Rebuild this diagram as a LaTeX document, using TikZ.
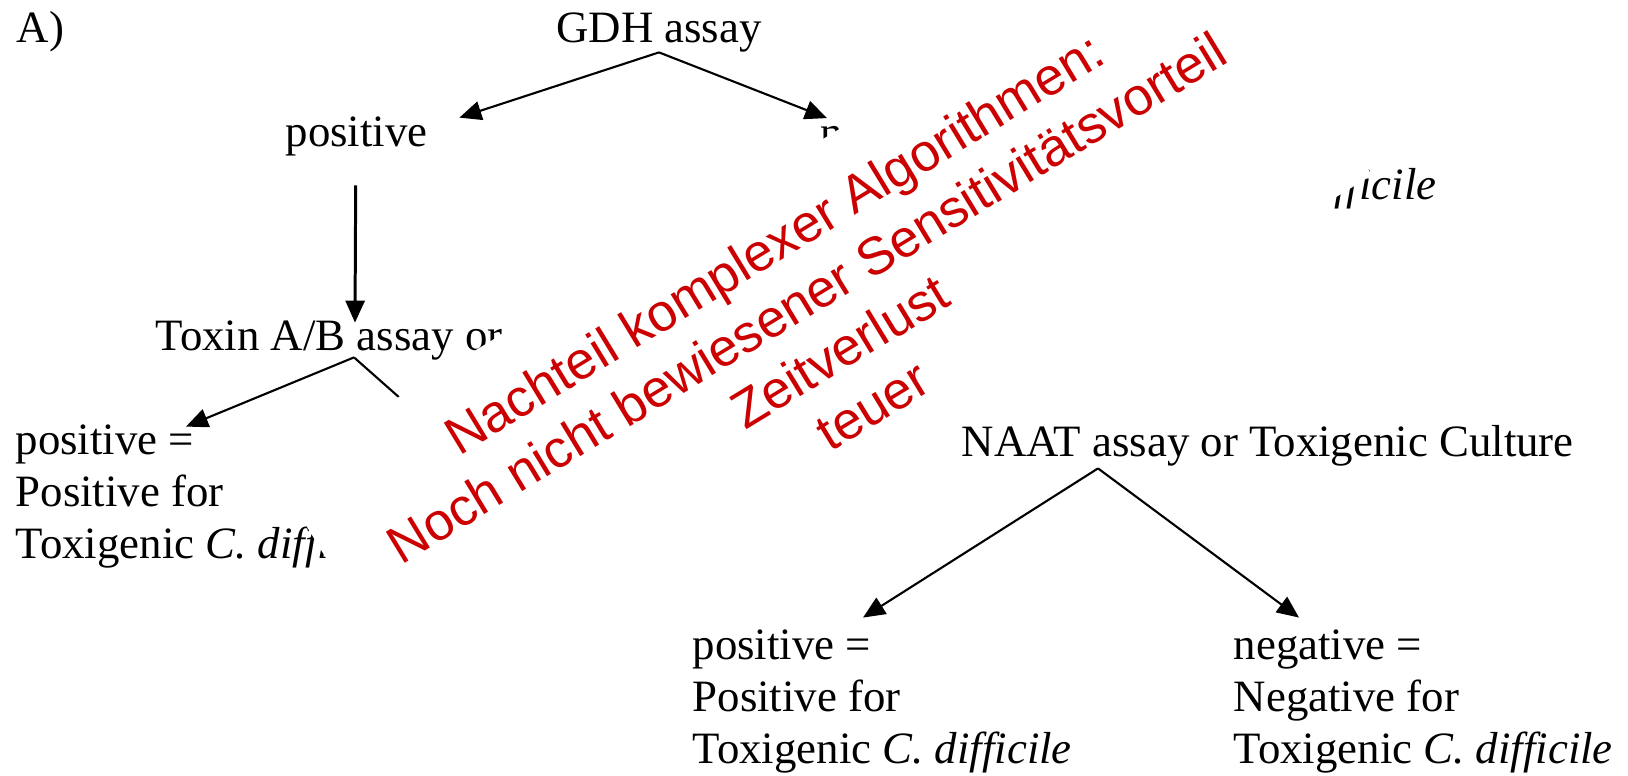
\documentclass[tikz,border=0pt]{standalone}
\usepackage{fontspec}
\setmainfont{Liberation Serif}
\newfontfamily\notefont{Liberation Sans}
\usepackage{tikz}
\definecolor{notered}{RGB}{204,0,0}
\usetikzlibrary{arrows.meta, calc}

\begin{document}
\begin{tikzpicture}[
  x=0.01cm, y=-0.01cm,
  >={Triangle[length=0.22cm, width=0.19cm]},
  every node/.style={inner sep=0pt, font=\fontsize{12.75}{14.65}\selectfont},
  txt/.style={anchor=base west, align=left},
  branch/.style={->, line width=0.6pt},
  note box/.style={fill=white, text=notered, rotate=31.3, align=center,
    minimum width=10.92cm, minimum height=3.16cm,
    font=\notefont\fontsize{15}{17.95}\selectfont},
]
  \useasboundingbox (0,0) rectangle (1628,775);

  \node[txt] (lab) at (16,42) {A)};
  \node[anchor=base] (gdh) at (659,42) {GDH assay};

  % first level
  \node[txt] (pos) at (285,146) {positive};
  \node[txt] (neg) at (820,199)
    {negative =\\Negative for Toxigenic \textit{C. difficile}};
  \draw[branch] (gdh.south) -- ($(pos.north east)+(31,2)$);
  \draw[branch] (gdh.south) -- ($(neg.north west)+(7,1)$);

  % toxin assay
  \node[txt] (tox) at (155,350) {Toxin A/B assay or};
  \draw[->, line width=0.85pt] ($(pos.south)+(-1,29)$) -- ($(tox.north west)+(200,3)$);

  \node[txt] (posL) at (15,558)
    {positive =\\Positive for\\Toxigenic \textit{C. difficile}};
  \coordinate (hid) at (470,460);
  \draw[branch] ($(tox.south west)+(199,-3)$) -- ($(posL.north west)+(171,2)$);
  \draw[line width=0.6pt] ($(tox.south west)+(199,-3)$) -- (hid);

  % NAAT
  \node[txt] (naat) at (961,456) {NAAT assay or Toxigenic Culture};
  \node[txt] (posR) at (692,763)
    {positive =\\Positive for\\Toxigenic \textit{C. difficile}};
  \node[txt] (negR) at (1233,763)
    {negative =\\Negative for\\Toxigenic \textit{C. difficile}};
  \draw[branch] ($(naat.south west)+(137,2)$) -- ($(posR.north west)+(171,-12)$);
  \draw[branch] ($(naat.south west)+(137,2)$) -- ($(negR.north west)+(66,-12)$);

  % overlay
  \node[note box] (note) at (823,324)
    {Nachteil komplexer Algorithmen:\\Noch nicht bewiesener Sensitivitätsvorteil\\Zeitverlust\\teuer};
\end{tikzpicture}
\end{document}
